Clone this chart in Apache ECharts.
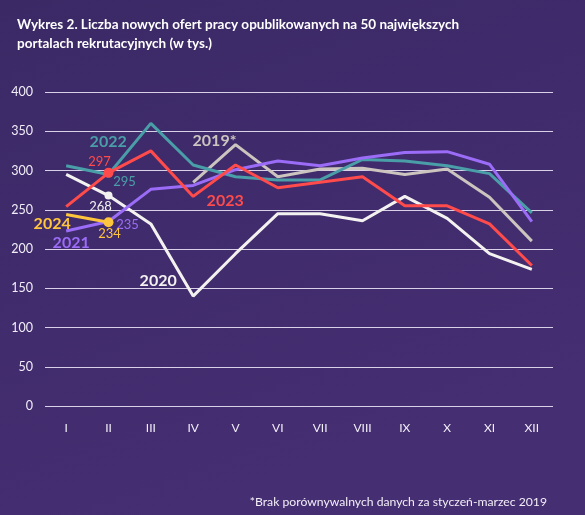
<!DOCTYPE html>
<html><head><meta charset="utf-8">
<script src="https://cdn.jsdelivr.net/npm/echarts@6/dist/echarts.min.js"></script>
<style>html,body{margin:0;padding:0;background:#3f2b6c;}#c{width:585px;height:515px;}</style>
</head><body><div id="c"></div>
<script>
const months = ['I','II','III','IV','V','VI','VII','VIII','IX','X','XI','XII'];
const yTicks = [0,50,100,150,200,250,300,350,400];
const y2019 = [null,null,null,285,333,292,302,303,295,302,266,210];
const y2020 = [295,268,232,140,194,245,245,236,267,239,194,174];
const y2021 = [223,235,276,281,301,312,306,316,323,324,308,235];
const y2022 = [306,295,360,307,292,288,288,314,312,306,296,246];
const y2023 = [254,297,325,267,307,278,285,292,255,255,232,179];
const y2024 = [244,234];
const title = 'Wykres 2. Liczba nowych ofert pracy opublikowanych na 50 największych\nportalach rekrutacyjnych (w tys.)';
const footnote = '*Brak porównywalnych danych za styczeń-marzec 2019';

const FONT = 'Lato, "Open Sans", sans-serif';
// style specs: per-series markers and text labels attached to data points
const specs = [
  {name:'2019*', data:y2019, color:'#cbc4bf', markers:{}, labels:{4:{text:'2019*', off:[-21,-4], bold:true}}},
  {name:'2020', data:y2020, color:'#f4f2f0', markers:{1:8}, labels:{1:{text:'268', off:[-8,11]}, 3:{text:'2020', off:[-35,-15], bold:true}}},
  {name:'2022', data:y2022, color:'#4a9ea8', markers:{1:6}, labels:{0:{text:'2022', off:[42,-24], bold:true}, 1:{text:'295', off:[16,7]}}},
  {name:'2021', data:y2021, color:'#9b6cf7', markers:{}, labels:{0:{text:'2021', off:[5,12], bold:true}, 1:{text:'235', off:[19,3]}}},
  {name:'2023', data:y2023, color:'#ff4b4b', markers:{1:10}, labels:{1:{text:'297', off:[-9,-11]}, 3:{text:'2023', off:[32,4], bold:true}}},
  {name:'2024', data:y2024, color:'#ffc53d', markers:{1:10}, labels:{0:{text:'2024', off:[-14,9], bold:true}, 1:{text:'234', off:[1,12]}}}
];

const series = specs.map(s => ({
  name: s.name, type:'line', showSymbol:true, showAllSymbol:true, symbol:'circle',
  connectNulls:false, silent:true, animation:false,
  lineStyle:{color:s.color, width:3}, itemStyle:{color:s.color},
  data: s.data.map((v,i) => {
    const item = {value:v, symbolSize: s.markers[i] || 0};
    const l = s.labels[i];
    if (l) item.label = {show:true, position:'inside', offset:l.off, formatter:l.text,
      color:s.color, fontFamily:FONT, fontSize:l.bold?16:13, fontWeight:l.bold?'bold':'normal'};
    return item;
  })
}));

const chart = echarts.init(document.getElementById('c'), null, {renderer:'canvas'});
chart.setOption({
  backgroundColor:{type:'linear',x:0,y:0,x2:0.3,y2:1,colorStops:[{offset:0,color:'#3b2966'},{offset:1,color:'#452e72'}]},
  title:[
    {text:title, left:12, top:10, textStyle:{color:'#ffffff', fontFamily:FONT, fontSize:13.5, fontWeight:'bold', lineHeight:19}},
    {text:footnote, right:33, top:491, textStyle:{color:'#f2eef8', fontFamily:FONT, fontSize:12.2, fontWeight:'normal'}}
  ],
  grid:{left:45, right:32, top:92, bottom:109},
  xAxis:{type:'category', data:months, boundaryGap:true,
    axisLine:{show:false}, axisTick:{show:false},
    axisLabel:{color:'#f2eef8', fontFamily:FONT, fontSize:12, margin:16}},
  yAxis:{type:'value', min:yTicks[0], max:yTicks[yTicks.length-1], interval:50,
    axisLine:{show:false}, axisTick:{show:false},
    axisLabel:{color:'#f2eef8', fontFamily:FONT, fontSize:12.5, margin:12},
    splitLine:{lineStyle:{color:'#d9d1e8', width:1}}},
  series: series
});
</script></body></html>
